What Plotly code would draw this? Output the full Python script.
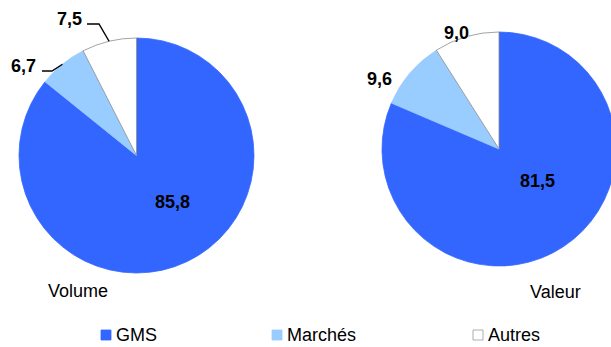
import math
import plotly.graph_objects as go

categories = ["GMS", "Marchés", "Autres"]
volume = [85.8, 6.7, 7.5]
valeur = [81.5, 9.6, 9.0]
volume_labels = ["85,8", "6,7", "7,5"]
valeur_labels = ["81,5", "9,6", "9,0"]
titles = ["Volume", "Valeur"]

colors = ["#3366FF", "#99CCFF", "#FFFFFF"]
line_colors = ["#3366FF", "#99CCFF", "#8C8C8C"]

W, H = 620, 347  # page is 611 wide; right pie slightly clipped like the reference
FONT = "Liberation Sans, Arial, sans-serif"

def px(x):
    return x / W

def py(y):
    return 1 - y / H

left = dict(x0=19, x1=254, y0=38, y1=273)
right = dict(x0=382, x1=616, y0=32, y1=266)

fig = go.Figure()
for vals, dom in [(volume, left), (valeur, right)]:
    fig.add_trace(go.Pie(
        labels=categories, values=vals, sort=False, direction="clockwise",
        rotation=0, textinfo="none", hoverinfo="label+value",
        marker=dict(colors=colors, line=dict(color=line_colors, width=0.8)),
        domain=dict(x=[px(dom["x0"]), px(dom["x1"])],
                    y=[py(dom["y1"]), py(dom["y0"])]),
        showlegend=False,
    ))

annotations = []
shapes = []

def lab(text, x, y, bold=True, anchor="center"):
    annotations.append(dict(
        text=f"<b>{text}</b>" if bold else text, x=px(x), y=py(y),
        xref="paper", yref="paper", showarrow=False, xanchor=anchor,
        yanchor="middle", font=dict(family=FONT, size=18, color="#000000")))

lab(volume_labels[0], 172, 202)
lab(volume_labels[1], 23.5, 66)
lab(volume_labels[2], 69.5, 19)
lab(valeur_labels[0], 537, 181)
lab(valeur_labels[1], 379.5, 79)
lab(valeur_labels[2], 456.5, 33)

lcx = (left["x0"] + left["x1"]) / 2
lcy = (left["y0"] + left["y1"]) / 2
lr = (left["x1"] - left["x0"]) / 2
tot = sum(volume)
cum = 0
mids = []
for v in volume:
    mids.append((cum + v / 2) / tot * 2 * math.pi)
    cum += v
elbows = {1: ((52, 71), (42, 71)), 2: ((99, 24), (87, 24))}
for i, (elb, end) in elbows.items():
    a = mids[i]
    ax = lcx + lr * math.sin(a)
    ay = lcy - lr * math.cos(a)
    path = f"M {px(ax)} {py(ay)} L {px(elb[0])} {py(elb[1])} L {px(end[0])} {py(end[1])}"
    shapes.append(dict(type="path", path=path, xref="paper", yref="paper",
                       line=dict(color="#000000", width=1.4)))

lab(titles[0], 78, 291, bold=False)
lab(titles[1], 555, 292, bold=False)

leg_x = [101, 272, 473]
for name, col, lc, lx in zip(categories, colors, line_colors, leg_x):
    shapes.append(dict(type="rect", xref="paper", yref="paper",
                       x0=px(lx), x1=px(lx + 10), y0=py(340), y1=py(330),
                       fillcolor=col, line=dict(color=lc if col != "#FFFFFF" else "#999999", width=0.8)))
    annotations.append(dict(text=name, x=px(lx + 13), y=py(335), xref="paper", yref="paper",
                            showarrow=False, xanchor="left", yanchor="middle",
                            font=dict(family=FONT, size=18, color="#000000")))

fig.update_layout(
    width=W, height=H, margin=dict(l=0, r=0, t=0, b=0),
    paper_bgcolor="#FFFFFF", plot_bgcolor="#FFFFFF",
    annotations=annotations, shapes=shapes, showlegend=False,
    font=dict(family=FONT),
)

fig.write_html(
    "out.html",
    config={"displayModeBar": False},
    post_script="document.body.style.margin='0';document.body.style.overflow='hidden';",
)
